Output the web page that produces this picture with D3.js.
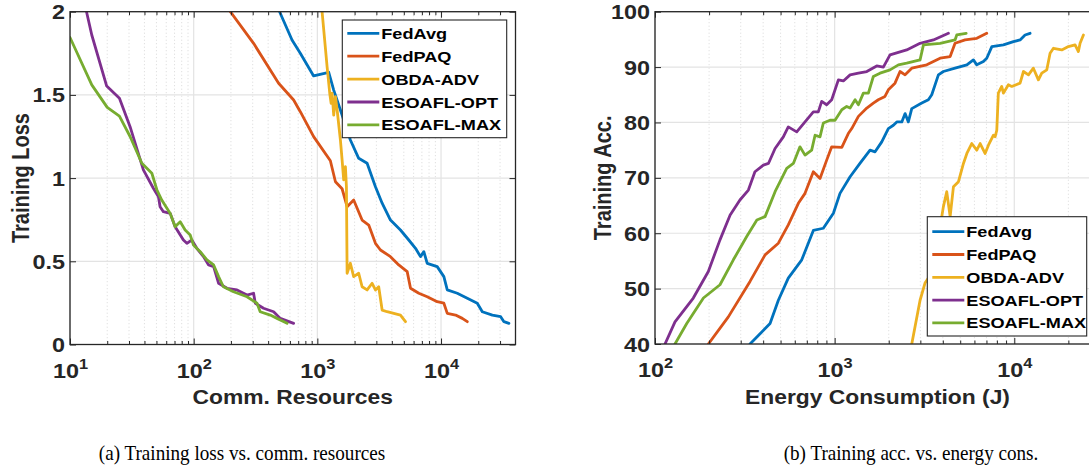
<!DOCTYPE html>
<html><head><meta charset="utf-8">
<script src="https://cdn.jsdelivr.net/npm/d3@7"></script>
<style>body{margin:0;background:#fff} svg{display:block}</style>
</head><body>
<svg id="c" width="1089" height="469"></svg>
<script>
const seriesNames = ["FedAvg","FedPAQ","OBDA-ADV","ESOAFL-OPT","ESOAFL-MAX"];
const seriesColors = ["#0072BD","#D95319","#EDB120","#7E2F8E","#77AC30"];

// ---- (a) Training loss vs. comm. resources ----
const lossFedAvgX = [495,624,728,933,1236,1356,1536,1849,2159,2525,2949,3340,3900,4698,5485,6217,6824,7260,7731,9311,10540,11230,13530,16300,19630,21560,26000,30350,32250,35390];
const lossFedAvgY = [2.0,1.83,1.75,1.614,1.636,1.529,1.409,1.229,1.119,1.089,0.948,0.849,0.748,0.688,0.628,0.578,0.528,0.558,0.488,0.468,0.408,0.328,0.308,0.278,0.248,0.197,0.177,0.167,0.137,0.127];
const lossFedPAQX = [198,305,486,643,728,933,1274,1400,1585,1740,1966,2300,2602,2949,3237,3900,4552,5325,5666,6612,7731,9311,10540,11230,13100,14850,16300];
const lossFedPAQY = [2.0,1.81,1.57,1.469,1.399,1.249,1.104,0.978,0.936,0.828,0.868,0.748,0.718,0.608,0.568,0.528,0.478,0.438,0.338,0.308,0.287,0.257,0.248,0.187,0.177,0.157,0.137];
const lossOBDAX = [1092,1199,1259,1292,1316,1356,1400,1445,1536,1585,1633,1686,1718,1740,1849,1966,2159,2300,2525,2772,2949,3133,3340,3664,4148,4698,5159];
const lossOBDAY = [2.0,1.669,1.51,1.449,1.51,1.379,1.489,1.409,1.229,1.109,0.989,1.069,0.948,0.428,0.488,0.408,0.428,0.347,0.328,0.368,0.328,0.347,0.207,0.197,0.187,0.177,0.137];
const lossOPTX = [13.6,15.0,19.8,25.1,30.6,39.2,47.2,51.9,53.5,56.9,64.6,70.8,82.6,88.1,96.6,106,120,132,145,159,186,224,270,305,315,367,443,501,643];
const lossOPTY = [2.0,1.86,1.553,1.48,1.309,1.049,0.939,0.888,0.828,0.798,0.788,0.708,0.628,0.608,0.628,0.578,0.528,0.478,0.468,0.368,0.338,0.328,0.297,0.308,0.248,0.218,0.197,0.157,0.127];
const lossMAXX = [10,15.0,20.0,25.1,30.6,38.1,45.9,50.4,55.2,64.6,70.8,77.8,85.3,93.7,99.6,113,128,145,159,174,210,270,325,345,416,472,569];
const lossMAXY = [1.845,1.56,1.425,1.373,1.25,1.089,1.029,0.93,0.868,0.788,0.708,0.738,0.688,0.658,0.598,0.558,0.508,0.478,0.408,0.347,0.317,0.287,0.248,0.197,0.177,0.157,0.127];

// ---- (b) Training acc. vs. energy consumption ----
const accFedAvgX = [338,437,486,552,656,761,865,984,1071,1219,1383,1574,1679,1829,1990,2123,2218,2365,2467,2572,2687,3055,3325,3472,3780,4030,4680,5445,5920,6184,6730,7025,7500,8700,9890,10770,11480,12240];
const accFedAvgY = [40,43.7,47.9,51.9,55.2,60.5,60.9,63.6,67.2,70.2,72.6,75.0,74.7,76.5,78.9,79.5,80.1,80.1,81.6,80.1,82.5,83.5,84.1,85.0,88.6,89.2,89.8,90.4,91.3,90.4,91.0,91.6,93.7,94.0,94.6,94.9,95.8,96.1];
const accFedPAQX = [198.1,256,338,410,486,552,628,684,761,829,903,963,1096,1191,1245,1356,1510,1642,1750,1906,1990,2168,2312,2467,2687,3257,3864,4395,4680,5321,6184,7025];
const accFedPAQY = [40,44.9,51.3,56.1,58.2,61.5,65.4,67.2,71.1,69.9,73.2,75.6,75.5,78.0,78.9,81.1,82.6,83.5,84.1,84.7,85.9,87.1,89.2,88.6,89.8,90.4,91.6,91.9,94.3,94.9,95.2,96.1];
const accOBDAX = [2687,2989,3184,3472,3780,3948,4030,4207,4395,4585,4890,5212,5445,5797,6184,6457,6877,7178,7655,7820,7990,8150,8510,8700,9270,9680,10770,11250,11990,12770,13620,14220,15170,15820,16520,18380,20000,21800,22740,23240,24260];
const accOBDAY = [40,47.9,51.0,52.8,58.2,63.0,64.8,67.5,63.0,68.4,69.3,72.6,74.4,76.2,75.0,76.2,74.4,75.9,77.7,77.4,78.6,85.3,86.5,85.3,86.8,86.5,87.1,89.2,88.6,89.8,87.7,88.9,89.5,92.5,93.4,93.1,93.7,94.0,92.8,94.3,95.8];
const accOPTX = [113.7,129.2,163.4,198.1,230,262,297,331,360,401,428,466,518,552,615,684,761,811,847,903,963,1049,1118,1219,1356,1510,1715,1867,2034,2518,2989,3546,4299];
const accOPTY = [40,44.0,48.3,53.1,58.8,63.3,66.0,67.8,71.1,72.3,72.6,75.3,77.4,79.2,78.3,80.1,81.9,81.9,83.8,83.2,84.1,87.7,87.5,88.6,88.9,89.2,90.2,90.0,92.2,93.1,94.3,94.9,96.1];
const accMAXX = [129.2,150.2,186,230,273,324,369,410,466,541,589,641,684,745,778,829,865,942,1005,1096,1167,1219,1300,1356,1445,1541,1642,1789,2034,2264,2518,2989,3121,3864,4680,4784,5395];
const accMAXY = [40,43.7,48.3,50.7,55.2,59.4,62.4,63.0,67.5,71.7,72.6,75.6,74.1,75.0,77.7,77.4,79.9,80.4,80.4,82.3,82.9,82.6,84.1,83.2,85.3,85.3,88.3,88.9,89.5,90.4,90.7,91.3,94.0,94.3,94.9,95.8,96.1];

const lossXTicks = [10,100,1000,10000];
const lossYTicks = [0,0.5,1,1.5,2];
const lossYTickLabels = ["0","0.5","1","1.5","2"];
const accXTicks = [100,1000,10000];
const accYTicks = [40,50,60,70,80,90,100];
const accYTickLabels = ["40","50","60","70","80","90","100"];

const axisLabels = {lossX:"Comm. Resources", lossY:"Training Loss", accX:"Energy Consumption (J)", accY:"Training Acc."};
const captions = ["(a) Training loss vs. comm. resources","(b) Training acc. vs. energy cons."];

// ---------------- drawing ----------------
const SX = 1.17;
const INK = "#262626";
const SANS = "'Liberation Sans', Arial, Helvetica, sans-serif";
const svg = d3.select("#c");

function stxt(parent, x, y, str, o) {
  const g = parent.append("g").attr("transform", `translate(${x},${y}) scale(${o.sx||SX},1)` + (o.rot ? ` rotate(${o.rot})` : ""));
  return g.append("text").attr("font-family", o.family || SANS).attr("font-weight", o.weight || "bold")
    .attr("font-size", o.size).attr("text-anchor", o.anchor || "start").attr("fill", o.fill || INK).text(str);
}

function minorValues(dom) {
  const out = [];
  for (let e = Math.floor(Math.log10(dom[0])); e <= Math.ceil(Math.log10(dom[1])); e++) {
    for (let k = 2; k <= 9; k++) { const v = k * Math.pow(10, e); if (v > dom[0] && v < dom[1]) out.push(v); }
  }
  return out;
}

function panel(cfg) {
  const x = d3.scaleLog().domain(cfg.xDom).range(cfg.xRange);
  const y = d3.scaleLinear().domain(cfg.yDom).range(cfg.yRange);
  const [x0, x1] = cfg.xRange, [y0, y1] = [cfg.yRange[1], cfg.yRange[0]];
  const g = svg.append("g");
  const cid = "clip" + cfg.id;
  svg.append("defs").append("clipPath").attr("id", cid).append("rect")
    .attr("x", x0).attr("y", y0).attr("width", x1 - x0).attr("height", y1 - y0);
  const minors = minorValues(cfg.xDom);
  g.append("g").selectAll("line").data(minors).join("line")
    .attr("x1", d => x(d)).attr("x2", d => x(d)).attr("y1", y0).attr("y2", y1)
    .attr("stroke", "#cfcfcf").attr("stroke-width", 0.8).attr("stroke-dasharray", "1,2.5");
  g.append("g").selectAll("line").data(cfg.xTicks).join("line")
    .attr("x1", d => x(d)).attr("x2", d => x(d)).attr("y1", y0).attr("y2", y1)
    .attr("stroke", "#e3e3e3").attr("stroke-width", 1.2);
  g.append("g").selectAll("line").data(cfg.yTicks).join("line")
    .attr("x1", x0).attr("x2", x1).attr("y1", d => y(d)).attr("y2", d => y(d))
    .attr("stroke", "#e3e3e3").attr("stroke-width", 1.2);
  const line = d3.line().x(d => x(d[0])).y(d => y(d[1]));
  const lg = g.append("g").attr("clip-path", `url(#${cid})`);
  cfg.series.forEach((s, i) => {
    lg.append("path").datum(d3.zip(s[0], s[1])).attr("d", line)
      .attr("fill", "none").attr("stroke", seriesColors[i]).attr("stroke-width", 2.8)
      .attr("stroke-linejoin", "round").attr("stroke-linecap", "round");
  });
  const mk = (axis, tr, vals, size) => {
    const a = g.append("g").attr("transform", tr).call(axis.tickValues(vals).tickSize(-size).tickFormat(""));
    a.select(".domain").remove();
    a.selectAll("line").attr("stroke", INK).attr("stroke-width", 1);
    a.selectAll("text").remove();
    return a;
  };
  mk(d3.axisBottom(x), `translate(0,${y1})`, minors, 3.5);
  mk(d3.axisTop(x), `translate(0,${y0})`, minors, 3.5);
  const xb = mk(d3.axisBottom(x), `translate(0,${y1})`, cfg.xTicks, 6);
  mk(d3.axisTop(x), `translate(0,${y0})`, cfg.xTicks, 6);
  const yl = mk(d3.axisLeft(y), `translate(${x0},0)`, cfg.yTicks, 6);
  mk(d3.axisRight(y), `translate(${x1},0)`, cfg.yTicks, 6);
  g.append("rect").attr("x", x0).attr("y", y0).attr("width", x1 - x0).attr("height", y1 - y0)
    .attr("fill", "none").attr("stroke", INK).attr("stroke-width", 1.3);
  xb.selectAll(".tick").each(function(d) {
    const t = d3.select(this).append("g").attr("transform", `translate(0,33) scale(${SX},1)`)
      .append("text").attr("text-anchor", "middle").attr("font-family", SANS).attr("font-weight", "bold")
      .attr("font-size", 20).attr("fill", INK);
    t.append("tspan").text("10");
    t.append("tspan").attr("dy", -9).attr("font-size", 14).text(String(Math.round(Math.log10(d))));
  });
  yl.selectAll(".tick").each(function(d, i) {
    stxt(d3.select(this), -5, 7, cfg.yLabels[i], {size: 20, anchor: "end"});
  });
  stxt(svg, (x0 + x1) / 2, 404, cfg.xTitle, {size: 19.5, anchor: "middle"});
  stxt(svg, cfg.yTitleX, (y0 + y1) / 2, cfg.yTitle, {size: 20, anchor: "middle", rot: -90});
  const L = cfg.legend;
  const lgd = svg.append("g");
  lgd.append("rect").attr("x", L.x).attr("y", L.y).attr("width", L.w).attr("height", L.h)
    .attr("fill", "#fff").attr("stroke", INK).attr("stroke-width", 1.1);
  seriesNames.forEach((n, i) => {
    const yy = L.y + L.first + i * L.step;
    lgd.append("line").attr("x1", L.x + 5).attr("x2", L.x + 37).attr("y1", yy).attr("y2", yy)
      .attr("stroke", seriesColors[i]).attr("stroke-width", 2.8);
    stxt(lgd, L.x + 39, yy + 5.5, n, {size: 15.5, fill: "#000"});
  });
}

panel({
  id: "a", xDom: [10, 40000], xRange: [70, 515.5], yDom: [0, 2], yRange: [344.5, 11.7],
  xTicks: lossXTicks, yTicks: lossYTicks, yLabels: lossYTickLabels,
  xTitle: axisLabels.lossX, yTitle: axisLabels.lossY, yTitleX: 29,
  series: [[lossFedAvgX, lossFedAvgY], [lossFedPAQX, lossFedPAQY], [lossOBDAX, lossOBDAY], [lossOPTX, lossOPTY], [lossMAXX, lossMAXY]],
  legend: {x: 342.3, y: 20, w: 164.4, h: 117.7, first: 13.3, step: 22.9}
});
panel({
  id: "b", xDom: [100, 30000], xRange: [655, 1100], yDom: [40, 100], yRange: [344, 11.7],
  xTicks: accXTicks, yTicks: accYTicks, yLabels: accYTickLabels,
  xTitle: axisLabels.accX, yTitle: axisLabels.accY, yTitleX: 611,
  series: [[accFedAvgX, accFedAvgY], [accFedPAQX, accFedPAQY], [accOBDAX, accOBDAY], [accOPTX, accOPTY], [accMAXX, accMAXY]],
  legend: {x: 927.3, y: 216.7, w: 159.4, h: 119.3, first: 15, step: 22.8}
});

const SERIF = "'Liberation Serif', 'Times New Roman', serif";
stxt(svg, 242, 460, captions[0], {size: 22, anchor: "middle", weight: "normal", family: SERIF, fill: "#000", sx: 0.87});
stxt(svg, 911, 460, captions[1], {size: 22, anchor: "middle", weight: "normal", family: SERIF, fill: "#000", sx: 0.87});
</script>
</body></html>
